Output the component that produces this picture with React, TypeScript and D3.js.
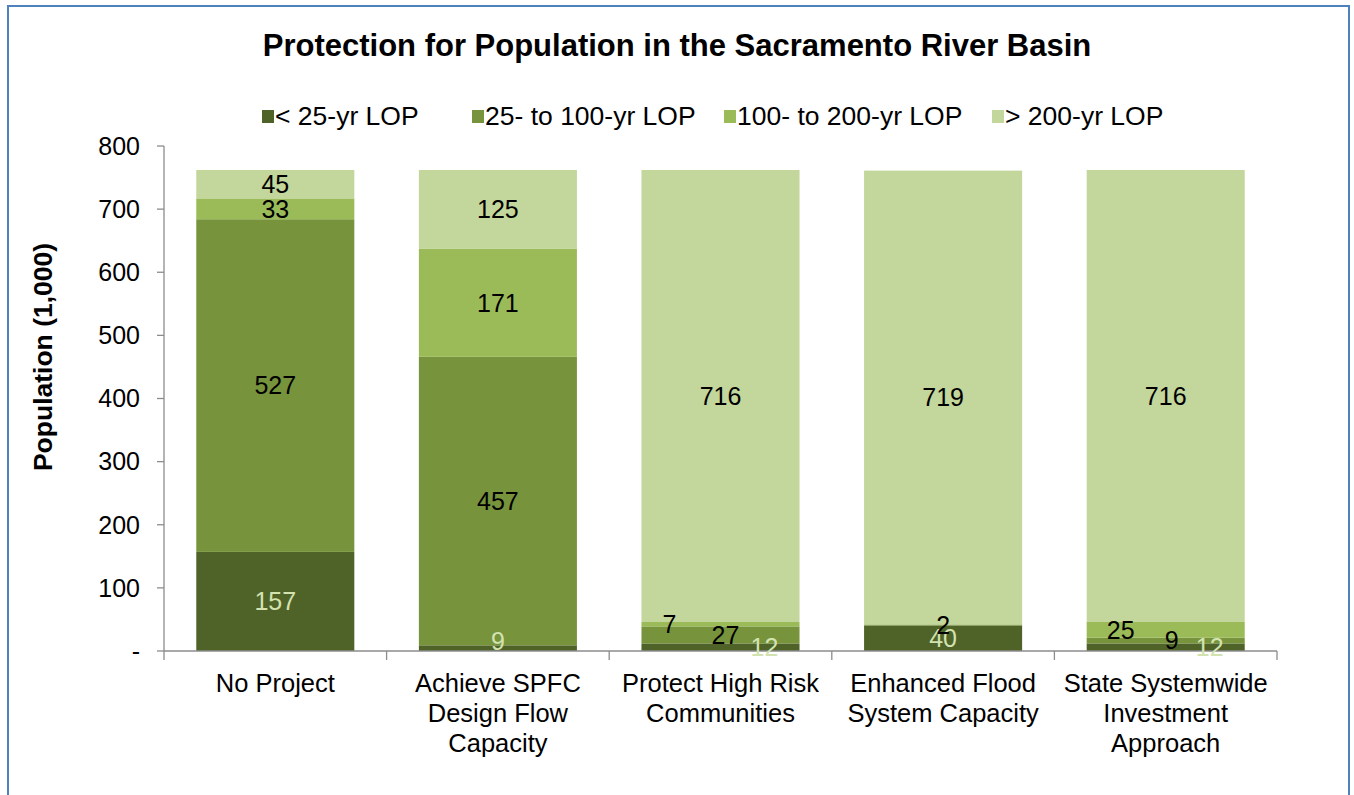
import React from "react";
import { scaleBand, scaleLinear, stack } from "d3";

// categories (x axis), one label line per entry
const categories = [
  "No Project",
  "Achieve SPFC Design Flow Capacity",
  "Protect High Risk Communities",
  "Enhanced Flood System Capacity",
  "State Systemwide Investment Approach",
];
const categoryLines = [
  ["No Project"],
  ["Achieve SPFC", "Design Flow", "Capacity"],
  ["Protect High Risk", "Communities"],
  ["Enhanced Flood", "System Capacity"],
  ["State Systemwide", "Investment", "Approach"],
];

const seriesNames = ["< 25-yr LOP", "25- to 100-yr LOP", "100- to 200-yr LOP", "> 200-yr LOP"];
const lopUnder25 = [157, 9, 12, 40, 12];
const lop25to100 = [527, 457, 27, 2, 9];
const lop100to200 = [33, 171, 7, 0, 25];
const lopOver200 = [45, 125, 716, 719, 716];

const yTicks = [0, 100, 200, 300, 400, 500, 600, 700, 800];

const colors = ["#4f6228", "#77933c", "#9bbb59", "#c3d69b"];
const labelColors = ["#d3e3b0", "#000", "#000", "#000"];

// manual label nudges like the original: [category, series, dx, dy]
const labelNudges: [number, number, number, number][] = [
  [1, 0, 0, -7],
  [2, 0, 44, 0],
  [2, 1, 5, 0],
  [2, 2, -51, 0],
  [4, 0, 44, 0],
  [4, 1, 6, 0],
  [4, 2, -45, 0],
];

const W = 1354;
const H = 795;
const FONT = "'Liberation Sans', Arial, sans-serif";

export default function App() {
  const rows = categories.map((c, i) => ({
    cat: c,
    s0: lopUnder25[i],
    s1: lop25to100[i],
    s2: lop100to200[i],
    s3: lopOver200[i],
  }));
  const keys = ["s0", "s1", "s2", "s3"];
  const stacked = stack<any>().keys(keys)(rows);

  const x = scaleBand<string>()
    .domain(categories)
    .range([164, 1277])
    .paddingInner(0.29)
    .paddingOuter(0.145);
  const y = scaleLinear().domain([0, 800]).range([651, 146]);

  const axisColor = "#8c8c8c";
  const legendX = [262, 472, 724, 992];

  const nudge = (ci: number, si: number) => {
    const n = labelNudges.find((d) => d[0] === ci && d[1] === si);
    return n ? [n[2], n[3]] : [0, 0];
  };

  return (
    <div style={{ position: "absolute", left: 0, top: 0 }}>
      <svg width={W} height={H} style={{ display: "block", fontFamily: FONT }}>
        <rect x={0} y={0} width={W} height={H} fill="#fff" />
        <rect x={8} y={6} width={1341} height={820} fill="none" stroke="#4f81bd" strokeWidth={2} />

        <text x={677} y={45} textAnchor="middle" dy="0.35em" fontSize={31} fontWeight="bold" fill="#000">
          Protection for Population in the Sacramento River Basin
        </text>

        {/* legend */}
        {seriesNames.map((name, i) => (
          <g key={name} transform={`translate(${legendX[i]},116)`}>
            <rect x={0} y={-6} width={12} height={13} fill={colors[i]} />
            <text x={13} dy="0.35em" fontSize={26.5} fill="#000">
              {name}
            </text>
          </g>
        ))}

        {/* y axis */}
        <line x1={164} x2={164} y1={y(800)} y2={y(0)} stroke={axisColor} strokeWidth={1.3} />
        {yTicks.map((t) => (
          <g key={t}>
            <line x1={157} x2={164} y1={y(t)} y2={y(t)} stroke={axisColor} strokeWidth={1.3} />
            <text x={140} y={y(t)} dy="0.35em" textAnchor="end" fontSize={25} fill="#000">
              {t === 0 ? "-" : t}
            </text>
          </g>
        ))}
        <text
          transform={`translate(43,357) rotate(-90)`}
          textAnchor="middle"
          dy="0.35em"
          fontSize={26.5}
          fontWeight="bold"
          fill="#000"
        >
          Population (1,000)
        </text>

        {/* bars */}
        {stacked.map((layer, si) =>
          layer.map((d, ci) => {
            const v = d[1] - d[0];
            if (v <= 0) return null;
            return (
              <rect
                key={`${si}-${ci}`}
                x={x(categories[ci])}
                y={y(d[1])}
                width={x.bandwidth()}
                height={y(d[0]) - y(d[1])}
                fill={colors[si]}
              />
            );
          })
        )}

        {/* x axis */}
        <line x1={164} x2={1277} y1={y(0)} y2={y(0)} stroke={axisColor} strokeWidth={1.3} />
        {[0, 1, 2, 3, 4, 5].map((i) => {
          const xx = 164 + i * x.step();
          return <line key={i} x1={xx} x2={xx} y1={y(0)} y2={y(0) + 9} stroke={axisColor} strokeWidth={1.3} />;
        })}
        {categoryLines.map((lines, ci) =>
          lines.map((ln, li) => (
            <text
              key={`${ci}-${li}`}
              x={(x(categories[ci]) as number) + x.bandwidth() / 2}
              y={683 + li * 30}
              dy="0.35em"
              textAnchor="middle"
              fontSize={25.5}
              fill="#000"
            >
              {ln}
            </text>
          ))
        )}

        {/* data labels */}
        {stacked.map((layer, si) =>
          layer.map((d, ci) => {
            const v = d[1] - d[0];
            if (v <= 0) return null;
            const [dx, dy] = nudge(ci, si);
            return (
              <text
                key={`l-${si}-${ci}`}
                x={(x(categories[ci]) as number) + x.bandwidth() / 2 + dx}
                y={y((d[0] + d[1]) / 2) + dy}
                dy="0.35em"
                textAnchor="middle"
                fontSize={25}
                fill={labelColors[si]}
              >
                {v}
              </text>
            );
          })
        )}
      </svg>
    </div>
  );
}
